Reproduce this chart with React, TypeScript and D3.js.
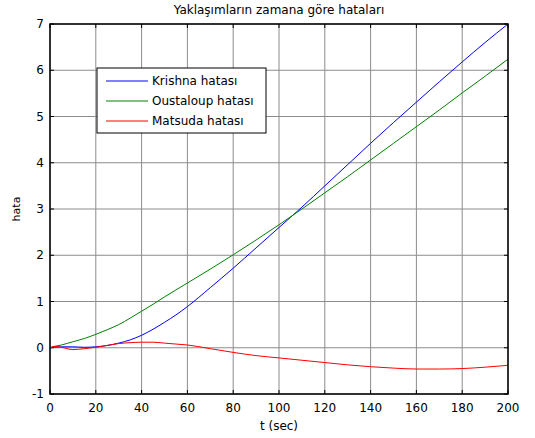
import * as d3 from "d3";

// sample times (sec)
const times = [0, 2, 5, 10, 15, 20, 25, 30, 35, 40, 45, 50, 55, 60, 70, 80, 90, 100, 110, 120, 130, 140, 150, 160, 170, 180, 190, 200];

const krishna = [0, 0.01, 0.02, 0.02, 0.01, 0.02, 0.05, 0.1, 0.17, 0.27, 0.4, 0.55, 0.71, 0.89, 1.3, 1.72, 2.16, 2.6, 3.04, 3.5, 3.96, 4.42, 4.87, 5.31, 5.75, 6.18, 6.6, 7.0];
const oustaloup = [0, 0.03, 0.06, 0.13, 0.2, 0.29, 0.39, 0.5, 0.64, 0.79, 0.94, 1.1, 1.25, 1.4, 1.7, 2.01, 2.33, 2.66, 3.0, 3.35, 3.7, 4.06, 4.42, 4.78, 5.14, 5.51, 5.87, 6.24];
const matsuda = [0, 0.03, 0.01, -0.04, -0.02, 0.01, 0.05, 0.09, 0.11, 0.12, 0.12, 0.1, 0.08, 0.06, -0.02, -0.1, -0.17, -0.22, -0.27, -0.32, -0.37, -0.41, -0.44, -0.46, -0.46, -0.45, -0.42, -0.38];

const seriesNames = ["Krishna hatası", "Oustaloup hatası", "Matsuda hatası"];
const seriesColors = ["#0000ff", "#008000", "#ff0000"];

const xTicks = [0, 20, 40, 60, 80, 100, 120, 140, 160, 180, 200];
const yTicks = [-1, 0, 1, 2, 3, 4, 5, 6, 7];

export default function App() {
  const width = 535;
  const height = 438;
  const left = 50;
  const right = 508;
  const top = 24;
  const bottom = 394;

  const x = d3.scaleLinear().domain([0, 200]).range([left, right]);
  const y = d3.scaleLinear().domain([-1, 7]).range([bottom, top]);

  const line = d3
    .line<number>()
    .x((_, i) => x(times[i]))
    .y((d) => y(d))
    .curve(d3.curveMonotoneX);

  const series = [krishna, oustaloup, matsuda];
  const font = "'DejaVu Sans', sans-serif";

  return (
    <svg
      width={width}
      height={height}
      style={{ position: "absolute", left: 0, top: 0, background: "#fff" }}
      fontFamily={font}
    >
      <rect x={0} y={0} width={width} height={height} fill="#fff" />

      {/* grid */}
      {xTicks.map((t) => (
        <line key={"gx" + t} x1={x(t)} x2={x(t)} y1={top} y2={bottom} stroke="#8c8c8c" strokeWidth={1} />
      ))}
      {yTicks.map((t) => (
        <line key={"gy" + t} x1={left} x2={right} y1={y(t)} y2={y(t)} stroke="#8c8c8c" strokeWidth={1} />
      ))}

      {/* tick marks */}
      {xTicks.map((t) => (
        <g key={"tx" + t}>
          <line x1={x(t)} x2={x(t)} y1={bottom} y2={bottom - 4} stroke="#000" />
          <line x1={x(t)} x2={x(t)} y1={top} y2={top + 4} stroke="#000" />
        </g>
      ))}
      {yTicks.map((t) => (
        <g key={"ty" + t}>
          <line x1={left} x2={left + 4} y1={y(t)} y2={y(t)} stroke="#000" />
          <line x1={right} x2={right - 4} y1={y(t)} y2={y(t)} stroke="#000" />
        </g>
      ))}

      {/* lines */}
      {series.map((s, i) => (
        <path key={seriesNames[i]} d={line(s) ?? ""} fill="none" stroke={seriesColors[i]} strokeWidth={1} />
      ))}

      {/* axes box */}
      <rect x={left} y={top} width={right - left} height={bottom - top} fill="none" stroke="#000" strokeWidth={1.5} />

      {/* tick labels */}
      {xTicks.map((t) => (
        <text key={"lx" + t} x={x(t)} y={bottom + 18} textAnchor="middle" fontSize={12} fill="#000">
          {t}
        </text>
      ))}
      {yTicks.map((t) => (
        <text key={"ly" + t} x={left - 6} y={y(t) + 4} textAnchor="end" fontSize={12} fill="#000">
          {t}
        </text>
      ))}

      {/* legend */}
      <rect x={97} y={68} width={169} height={65} fill="#fff" stroke="#000" strokeWidth={1} />
      {seriesNames.map((name, i) => (
        <g key={"lg" + name} transform={`translate(0, ${81 + i * 20})`}>
          <line x1={106} x2={148} y1={0} y2={0} stroke={seriesColors[i]} strokeWidth={1} />
          <text x={152} y={4} fontSize={12} fill="#000">
            {name}
          </text>
        </g>
      ))}

      {/* titles */}
      <text x={(left + right) / 2} y={14} textAnchor="middle" fontSize={12} fill="#000">
        Yaklaşımların zamana göre hataları
      </text>
      <text x={(left + right) / 2} y={430} textAnchor="middle" fontSize={12} fill="#000">
        t (sec)
      </text>
      <text transform={`translate(20, ${(top + bottom) / 2}) rotate(-90)`} textAnchor="middle" fontSize={11} fill="#000">
        hata
      </text>
    </svg>
  );
}
